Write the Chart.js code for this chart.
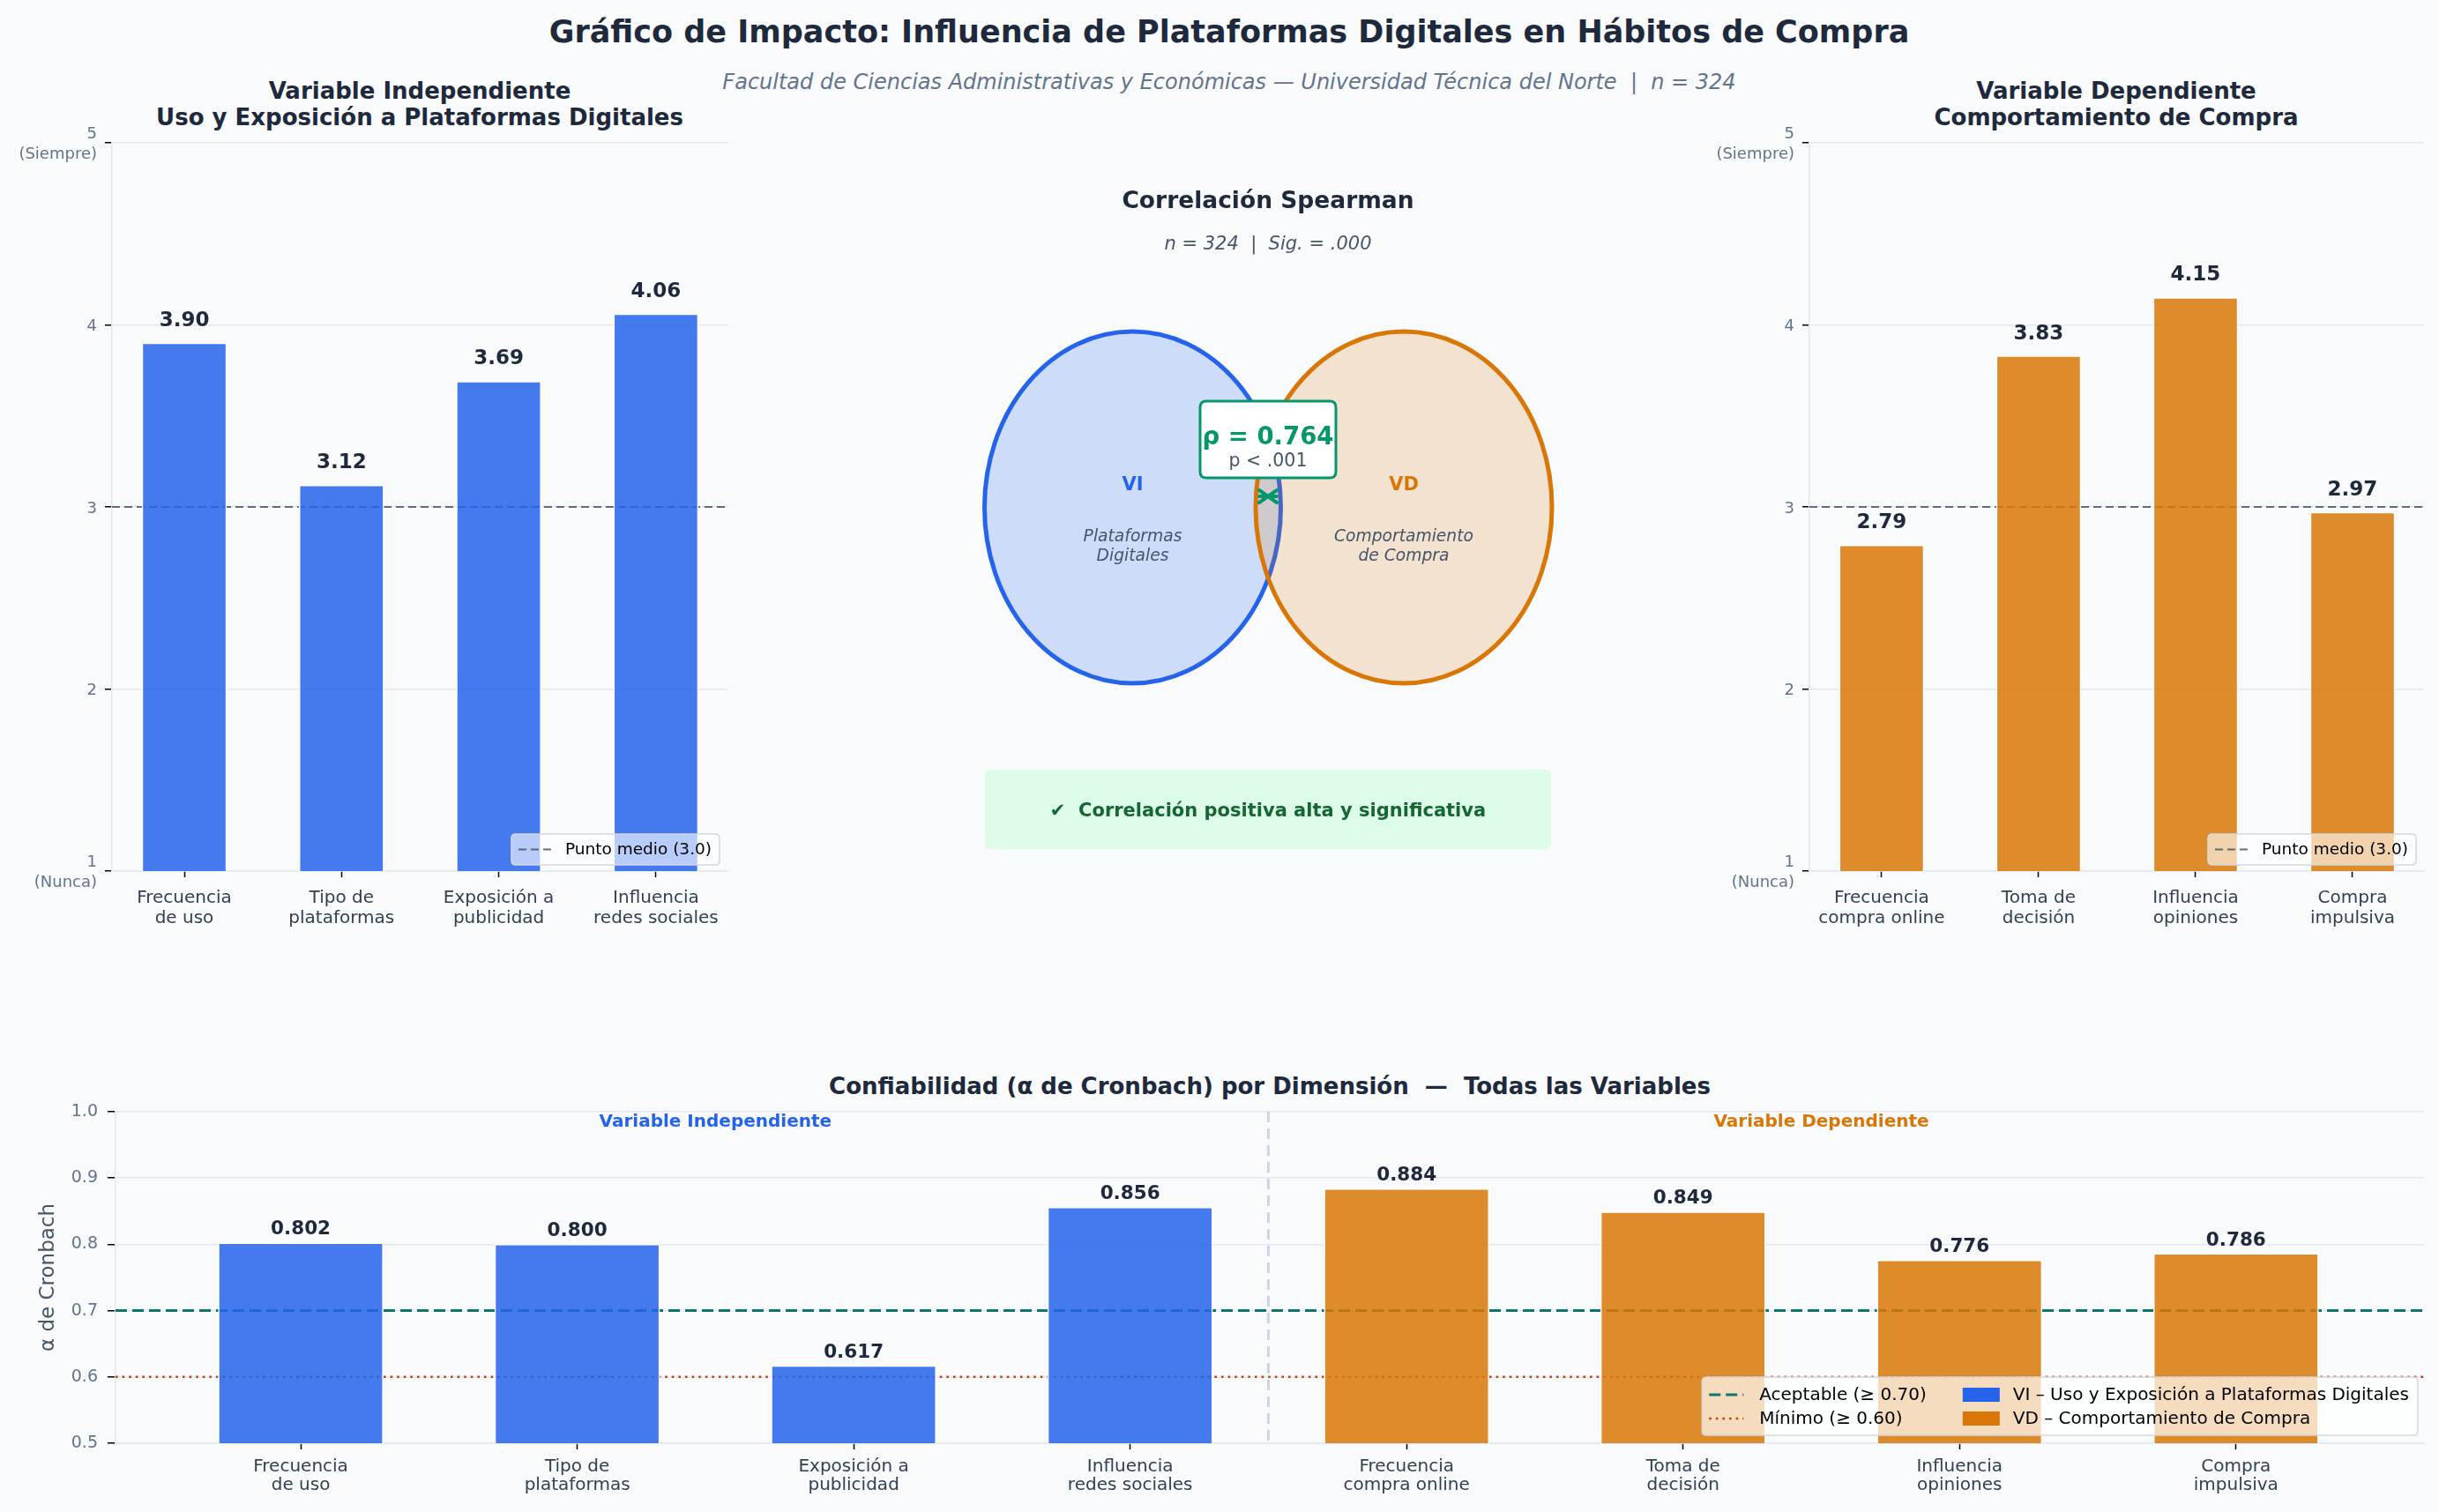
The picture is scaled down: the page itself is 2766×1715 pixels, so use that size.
<!DOCTYPE html>
<html><head><meta charset="utf-8">
<script src="https://cdn.jsdelivr.net/npm/chart.js@4.4.1/dist/chart.umd.min.js"></script>
<style>
html,body{margin:0;padding:0;background:#f8fafc;}
body{width:2766px;height:1715px;position:relative;overflow:hidden;font-family:"DejaVu Sans",sans-serif;}
.box{position:absolute;}
.t{position:absolute;transform:translate(-50%,-50%);white-space:pre;text-align:center;}
</style></head><body>
<div class="t" style="left:1394px;top:36px;font-size:35px;font-weight:bold;color:#1e293b">Gráfico de Impacto: Influencia de Plataformas Digitales en Hábitos de Compra</div>
<div class="t" style="left:1394px;top:93px;font-size:24px;font-style:italic;color:#64748b">Facultad de Ciencias Administrativas y Económicas — Universidad Técnica del Norte  |  n = 324</div>
<div class="t" style="left:476px;top:118px;font-size:26px;font-weight:bold;line-height:30px;color:#1e293b">Variable Independiente
Uso y Exposición a Plataformas Digitales</div>
<div class="t" style="left:2400px;top:118px;font-size:26px;font-weight:bold;line-height:30px;color:#1e293b">Variable Dependiente
Comportamiento de Compra</div>
<div class="t" style="left:1440px;top:1232px;font-size:26px;font-weight:bold;color:#1e293b">Confiabilidad (α de Cronbach) por Dimensión  —  Todas las Variables</div>

<div class="box" style="left:0;top:100px;width:845px;height:1000px"><canvas id="cA"></canvas></div>
<div class="box" style="left:1920px;top:100px;width:846px;height:1000px"><canvas id="cB"></canvas></div>
<div class="box" style="left:1050px;top:180px;width:800px;height:840px"><canvas id="cV"></canvas></div>
<div class="box" style="left:0;top:1200px;width:2766px;height:515px"><canvas id="cD"></canvas></div>

<script>
// ---------------- DATA ----------------
const VI_CATEGORIES = [['Frecuencia','de uso'],['Tipo de','plataformas'],['Exposición a','publicidad'],['Influencia','redes sociales']];
const VI_MEANS = [3.90, 3.12, 3.69, 4.06];
const VD_CATEGORIES = [['Frecuencia','compra online'],['Toma de','decisión'],['Influencia','opiniones'],['Compra','impulsiva']];
const VD_MEANS = [2.79, 3.83, 4.15, 2.97];
const LIKERT_TICKS = [1, 2, 3, 4, 5];
const LIKERT_TICK_LABELS = {1: ['1','(Nunca)'], 2: '2', 3: '3', 4: '4', 5: ['5','(Siempre)']};
const MIDPOINT = 3.0;
const MIDPOINT_LABEL = 'Punto medio (3.0)';

const ALPHA_CATEGORIES = VI_CATEGORIES.concat(VD_CATEGORIES);
const ALPHA_VALUES = [0.802, 0.800, 0.617, 0.856, 0.884, 0.849, 0.776, 0.786];
const ALPHA_GROUPS = ['VI','VI','VI','VI','VD','VD','VD','VD'];
const ALPHA_TICKS = [0.5, 0.6, 0.7, 0.8, 0.9, 1.0];
const ACCEPTABLE = 0.70;
const MINIMUM = 0.60;
const GROUP_NAMES = {VI: 'Variable Independiente', VD: 'Variable Dependiente'};
const LEGEND_LINES = ['Aceptable (≥ 0.70)', 'Mínimo (≥ 0.60)'];
const LEGEND_GROUPS = ['VI – Uso y Exposición a Plataformas Digitales', 'VD – Comportamiento de Compra'];

const RHO = 0.764;
const N = 324;
const SIG = '.000';
const P_TEXT = 'p < .001';
const VENN_LABELS = ['VI', 'VD'];
const VENN_DESCRIPTIONS = [['Plataformas','Digitales'], ['Comportamiento','de Compra']];
const CONCLUSION = '✔  Correlación positiva alta y significativa';

// ---------------- STYLE ----------------
const FONT = '"DejaVu Sans", sans-serif';
const BLUE = '#2563eb', ORANGE = '#d97706';
const BLUE_A = 'rgba(37,99,235,0.85)', ORANGE_A = 'rgba(217,119,6,0.85)';
const GREEN = '#059669';
Chart.defaults.font.family = FONT;

function roundRect(ctx, x, y, w, h, r) {
  ctx.beginPath();
  ctx.moveTo(x + r, y);
  ctx.lineTo(x + w - r, y); ctx.quadraticCurveTo(x + w, y, x + w, y + r);
  ctx.lineTo(x + w, y + h - r); ctx.quadraticCurveTo(x + w, y + h, x + w - r, y + h);
  ctx.lineTo(x + r, y + h); ctx.quadraticCurveTo(x, y + h, x, y + h - r);
  ctx.lineTo(x, y + r); ctx.quadraticCurveTo(x, y, x + r, y);
  ctx.closePath();
}

function valueLabelPlugin(fmt, size, offset) {
  return {
    id: 'valueLabels',
    afterDatasetsDraw(chart) {
      const ctx = chart.ctx;
      const meta = chart.getDatasetMeta(0);
      const ds = chart.data.datasets[0];
      ctx.save();
      ctx.font = `bold ${size}px ${FONT}`;
      ctx.fillStyle = '#1e293b';
      ctx.textAlign = 'center';
      ctx.textBaseline = 'middle';
      meta.data.forEach((el, i) => ctx.fillText(fmt(ds.data[i].y), el.x, el.y - offset));
      ctx.restore();
    }
  };
}

const midLinePlugin = {
  id: 'midLine',
  beforeDatasetsDraw(chart) {
    const {ctx, chartArea: a, scales: {y}} = chart;
    const py = y.getPixelForValue(MIDPOINT);
    ctx.save();
    ctx.strokeStyle = 'rgba(71,85,105,0.85)';
    ctx.lineWidth = 2.2;
    ctx.setLineDash([9, 5]);
    ctx.beginPath(); ctx.moveTo(a.left, py); ctx.lineTo(a.right, py); ctx.stroke();
    ctx.restore();
  },
  afterDraw(chart) {
    const {ctx, chartArea: a} = chart;
    ctx.save();
    ctx.font = `18.5px ${FONT}`;
    const tw = ctx.measureText(MIDPOINT_LABEL).width;
    const h = 35, w = 61 + tw + 9;
    const x = a.right - 9 - w, y = a.bottom - 7 - h;
    roundRect(ctx, x, y, w, h, 5);
    ctx.fillStyle = 'rgba(255,255,255,0.62)'; ctx.fill();
    ctx.strokeStyle = '#d4d8dd'; ctx.lineWidth = 1.5; ctx.stroke();
    ctx.strokeStyle = 'rgba(71,85,105,0.85)'; ctx.lineWidth = 2.2; ctx.setLineDash([9, 5]);
    ctx.beginPath(); ctx.moveTo(x + 8, y + h / 2); ctx.lineTo(x + 46, y + h / 2); ctx.stroke();
    ctx.setLineDash([]);
    ctx.fillStyle = '#000'; ctx.textAlign = 'left'; ctx.textBaseline = 'middle';
    ctx.fillText(MIDPOINT_LABEL, x + 61, y + h / 2 + 1);
    ctx.restore();
  }
};

function topChart(id, cats, vals, color, yWidth, rightPad) {
  return new Chart(document.getElementById(id), {
    type: 'bar',
    data: {datasets: [{
      data: vals.map((v, i) => ({x: i, y: v})),
      backgroundColor: color, borderColor: '#ffffff', borderWidth: 1.5,
      barThickness: 96
    }]},
    options: {
      responsive: true, maintainAspectRatio: false, animation: false,
      layout: {padding: {top: 62, right: rightPad, left: 0, bottom: 0}},
      plugins: {legend: {display: false}, tooltip: {enabled: false}},
      scales: {
        x: {
          type: 'linear', min: -0.46, max: 3.455, offset: false,
          afterBuildTicks: s => { s.ticks = cats.map((c, i) => ({value: i})); },
          afterFit: s => { s.height = 112; },
          ticks: {callback: v => cats[v], color: '#334155', font: {family: FONT, size: 20, lineHeight: 1.12}, padding: 13, maxRotation: 0, autoSkip: false},
          grid: {drawOnChartArea: false, drawTicks: true, tickLength: 7, tickColor: '#000', tickWidth: 1.5, offset: false},
          border: {color: '#e2e8f0', width: 1.5}
        },
        y: {
          min: 1, max: 5,
          afterBuildTicks: s => { s.ticks = LIKERT_TICKS.map(v => ({value: v})); },
          afterFit: s => { s.width = yWidth; },
          ticks: {callback: v => LIKERT_TICK_LABELS[v], color: '#64748b', font: {family: FONT, size: 18, lineHeight: 1.25}, padding: 9, labelOffset: 2},
          grid: {color: '#e2e8f0', lineWidth: 1.5, tickColor: '#000', tickLength: 8, tickWidth: 1.5},
          border: {color: '#e2e8f0', width: 1.5}
        }
      }
    },
    plugins: [midLinePlugin, valueLabelPlugin(v => v.toFixed(2), 23, 25)]
  });
}

topChart('cA', VI_CATEGORIES, VI_MEANS, BLUE_A, 127, 20);
topChart('cB', VD_CATEGORIES, VD_MEANS, ORANGE_A, 132, 17);

// ---------------- VENN PANEL ----------------
const vennPlugin = {
  id: 'venn',
  afterDraw(chart) {
    const {ctx, scales: {x, y}} = chart;
    const X = v => x.getPixelForValue(v), Y = v => y.getPixelForValue(v);
    ctx.save();
    ctx.textAlign = 'center'; ctx.textBaseline = 'middle';
    ctx.fillStyle = '#1e293b'; ctx.font = `bold 26.5px ${FONT}`;
    ctx.fillText('Correlación Spearman', X(388), Y(49));
    ctx.fillStyle = '#475569'; ctx.font = `italic 21px ${FONT}`;
    ctx.fillText(`n = ${N}  |  Sig. = ${SIG}`, X(388), Y(98));

    const ell = [
      {cx: 234.5, fill: 'rgba(37,99,235,0.2)', stroke: BLUE},
      {cx: 542, fill: 'rgba(217,119,6,0.18)', stroke: ORANGE}
    ];
    ell.forEach(e => {
      ctx.beginPath();
      ctx.ellipse(X(e.cx), Y(395.5), 168, 199.5, 0, 0, Math.PI * 2);
      ctx.fillStyle = e.fill; ctx.fill();
      ctx.lineWidth = 5; ctx.strokeStyle = e.stroke; ctx.stroke();
    });
    [BLUE, ORANGE].forEach((c, i) => {
      ctx.fillStyle = c; ctx.font = `bold 21px ${FONT}`;
      ctx.fillText(VENN_LABELS[i], X(ell[i].cx), Y(371));
      ctx.fillStyle = '#475569'; ctx.font = `italic 18.7px ${FONT}`;
      ctx.fillText(VENN_DESCRIPTIONS[i][0], X(ell[i].cx), Y(429));
      ctx.fillText(VENN_DESCRIPTIONS[i][1], X(ell[i].cx), Y(451));
    });
    // double arrow
    ctx.strokeStyle = GREEN; ctx.lineWidth = 4; ctx.lineCap = 'round';
    ctx.beginPath();
    ctx.moveTo(X(378), Y(383)); ctx.lineTo(X(398), Y(383));
    ctx.moveTo(X(378), Y(376)); ctx.lineTo(X(398), Y(390));
    ctx.moveTo(X(378), Y(390)); ctx.lineTo(X(398), Y(376));
    ctx.stroke();
    // rho box
    roundRect(ctx, X(311), Y(275), 154, 87, 7);
    ctx.fillStyle = '#ffffff'; ctx.fill();
    ctx.lineWidth = 3; ctx.strokeStyle = GREEN; ctx.stroke();
    ctx.fillStyle = GREEN; ctx.font = `bold 27.5px ${FONT}`;
    ctx.fillText(`ρ = ${RHO.toFixed(3)}`, X(388), Y(317));
    ctx.fillStyle = '#475569'; ctx.font = `20.5px ${FONT}`;
    ctx.fillText(P_TEXT, X(388), Y(344));
    // conclusion box
    roundRect(ctx, X(67), Y(693), 642, 90, 7);
    ctx.fillStyle = '#dcfce7'; ctx.fill();
    ctx.fillStyle = '#166534'; ctx.font = `bold 21px ${FONT}`;
    ctx.fillText(CONCLUSION, X(388), Y(741));
    ctx.restore();
  }
};
new Chart(document.getElementById('cV'), {
  type: 'scatter',
  data: {datasets: [{data: [], pointRadius: 0}]},
  options: {
    responsive: true, maintainAspectRatio: false, animation: false,
    layout: {padding: 0},
    plugins: {legend: {display: false}, tooltip: {enabled: false}},
    scales: {x: {display: false, min: 0, max: 800}, y: {display: false, min: 0, max: 840, reverse: true}}
  },
  plugins: [vennPlugin]
});

// ---------------- CRONBACH CHART ----------------
const alphaRefPlugin = {
  id: 'alphaRef',
  beforeDatasetsDraw(chart) {
    const {ctx, chartArea: a, scales: {x, y}} = chart;
    ctx.save();
    const sx = x.getPixelForValue(3.5);
    ctx.strokeStyle = '#cbd5e1'; ctx.lineWidth = 3; ctx.setLineDash([12, 7]);
    ctx.beginPath(); ctx.moveTo(sx, a.top); ctx.lineTo(sx, a.bottom); ctx.stroke();
    let py = y.getPixelForValue(ACCEPTABLE);
    ctx.strokeStyle = '#0f766e'; ctx.lineWidth = 3; ctx.setLineDash([13, 6]);
    ctx.beginPath(); ctx.moveTo(a.left, py); ctx.lineTo(a.right, py); ctx.stroke();
    py = y.getPixelForValue(MINIMUM);
    ctx.strokeStyle = '#c2410c'; ctx.lineWidth = 2.6; ctx.setLineDash([2.6, 5]);
    ctx.beginPath(); ctx.moveTo(a.left, py); ctx.lineTo(a.right, py); ctx.stroke();
    ctx.restore();
  },
  afterDatasetsDraw(chart) {
    const {ctx, scales: {x, y}} = chart;
    ctx.save();
    ctx.textAlign = 'center'; ctx.textBaseline = 'middle';
    ctx.font = `bold 20px ${FONT}`;
    ctx.fillStyle = BLUE; ctx.fillText(GROUP_NAMES.VI, x.getPixelForValue(1.5), y.getPixelForValue(0.984));
    ctx.fillStyle = ORANGE; ctx.fillText(GROUP_NAMES.VD, x.getPixelForValue(5.5), y.getPixelForValue(0.984));
    ctx.restore();
  },
  afterDraw(chart) {
    const {ctx, chartArea: a} = chart;
    ctx.save();
    ctx.font = `20px ${FONT}`;
    const w1 = Math.max(...LEGEND_LINES.map(t => ctx.measureText(t).width));
    const w2 = Math.max(...LEGEND_GROUPS.map(t => ctx.measureText(t).width));
    const h = 66, w = 8 + 39 + 18 + w1 + 41 + 42 + 15 + w2 + 10;
    const bx = a.right - 7 - w, by = a.bottom - 9 - h;
    roundRect(ctx, bx, by, w, h, 5);
    ctx.fillStyle = 'rgba(255,255,255,0.7)'; ctx.fill();
    ctx.strokeStyle = '#d4d8dd'; ctx.lineWidth = 1.5; ctx.stroke();
    const rows = [by + 20, by + 47];
    const c1 = bx + 8, c2 = c1 + 39 + 18 + w1 + 41;
    ctx.lineWidth = 3; ctx.strokeStyle = '#0f766e'; ctx.setLineDash([13, 6]);
    ctx.beginPath(); ctx.moveTo(c1, rows[0]); ctx.lineTo(c1 + 39, rows[0]); ctx.stroke();
    ctx.lineWidth = 2.6; ctx.strokeStyle = '#c2410c'; ctx.setLineDash([2.6, 5]);
    ctx.beginPath(); ctx.moveTo(c1, rows[1]); ctx.lineTo(c1 + 39, rows[1]); ctx.stroke();
    ctx.setLineDash([]);
    ctx.fillStyle = BLUE; ctx.fillRect(c2, rows[0] - 8, 42, 16);
    ctx.fillStyle = ORANGE; ctx.fillRect(c2, rows[1] - 8, 42, 16);
    ctx.fillStyle = '#000'; ctx.textAlign = 'left'; ctx.textBaseline = 'middle';
    LEGEND_LINES.forEach((t, i) => ctx.fillText(t, c1 + 57, rows[i] + 1));
    LEGEND_GROUPS.forEach((t, i) => ctx.fillText(t, c2 + 57, rows[i] + 1));
    ctx.restore();
  }
};

new Chart(document.getElementById('cD'), {
  type: 'bar',
  data: {datasets: [{
    data: ALPHA_VALUES.map((v, i) => ({x: i, y: v})),
    backgroundColor: ALPHA_GROUPS.map(g => g === 'VI' ? BLUE_A : ORANGE_A),
    borderColor: '#ffffff', borderWidth: 1.5,
    barThickness: 187
  }]},
  options: {
    responsive: true, maintainAspectRatio: false, animation: false,
    layout: {padding: {top: 61, right: 17, left: 0, bottom: 0}},
    plugins: {legend: {display: false}, tooltip: {enabled: false}},
    scales: {
      x: {
        type: 'linear', min: -0.67, max: 7.68, offset: false,
        afterBuildTicks: s => { s.ticks = ALPHA_CATEGORIES.map((c, i) => ({value: i})); },
        afterFit: s => { s.height = 78; },
        ticks: {callback: v => ALPHA_CATEGORIES[v], color: '#334155', font: {family: FONT, size: 20, lineHeight: 1.07}, padding: 9, maxRotation: 0, autoSkip: false},
        grid: {drawOnChartArea: false, drawTicks: true, tickLength: 7, tickColor: '#000', tickWidth: 1.5, offset: false},
        border: {color: '#e2e8f0', width: 1.5}
      },
      y: {
        min: 0.5, max: 1.0,
        afterBuildTicks: s => { s.ticks = ALPHA_TICKS.map(v => ({value: v})); },
        afterFit: s => { s.width = 131; },
        title: {display: true, text: 'α de Cronbach', color: '#475569', font: {family: FONT, size: 23}, padding: {top: 41, bottom: 0}},
        ticks: {callback: v => v.toFixed(1), color: '#64748b', font: {family: FONT, size: 19}, padding: 11},
        grid: {color: '#e2e8f0', lineWidth: 1.5, tickColor: '#000', tickLength: 9, tickWidth: 1.5},
        border: {color: '#e2e8f0', width: 1.5}
      }
    }
  },
  plugins: [alphaRefPlugin, valueLabelPlugin(v => v.toFixed(3), 21.5, 15)]
});
</script>
</body></html>
